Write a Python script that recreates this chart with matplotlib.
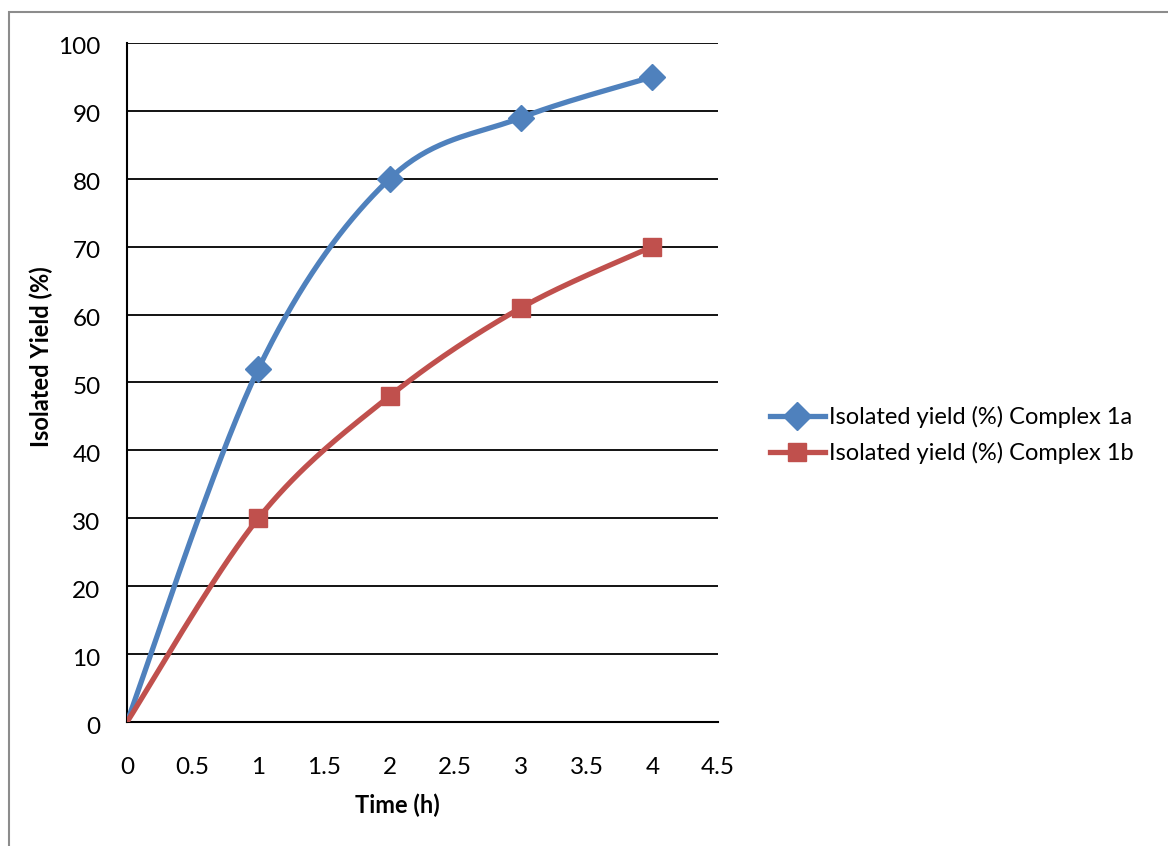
import numpy as np
import matplotlib.pyplot as plt
import matplotlib.transforms as mtransforms
from matplotlib.patches import Rectangle

time_h = [0, 1, 2, 3, 4]
yield_1a = [0, 52, 80, 89, 95]
yield_1b = [0, 30, 48, 61, 70]
labels = ['Isolated yield (%) Complex 1a', 'Isolated yield (%) Complex 1b']

plt.rcParams['font.family'] = ['Lato', 'DejaVu Sans']


def smooth(x, y, n=40):
    # Bezier smoothing through the points, like a spreadsheet "smoothed line"
    x = np.asarray(x, float)
    y = np.asarray(y, float)
    px = np.concatenate([[x[0]], x, [x[-1]]])
    py = np.concatenate([[y[0]], y, [y[-1]]])
    xs, ys = [], []
    t = np.linspace(0, 1, n)
    for i in range(len(x) - 1):
        p0 = np.array([px[i + 1], py[i + 1]])
        p3 = np.array([px[i + 2], py[i + 2]])
        c1 = p0 + (np.array([px[i + 2], py[i + 2]]) - np.array([px[i], py[i]])) / 6
        c2 = p3 - (np.array([px[i + 3], py[i + 3]]) - np.array([px[i + 1], py[i + 1]])) / 6
        b = (np.outer((1 - t) ** 3, p0) + np.outer(3 * (1 - t) ** 2 * t, c1)
             + np.outer(3 * (1 - t) * t ** 2, c2) + np.outer(t ** 3, p3))
        xs.extend(b[:, 0])
        ys.extend(b[:, 1])
    return xs, ys


fig = plt.figure(figsize=(11.68, 8.46), dpi=100)
fig.patches.append(Rectangle((9 / 1168, -0.1), 1.2, 1 - 12 / 846 + 0.1, transform=fig.transFigure,
                             fill=False, edgecolor='#8c8c8c', linewidth=1.5))
ax = fig.add_axes([127 / 1168, 1 - 722 / 846, (718 - 127) / 1168, (722 - 43) / 846])

series = [(yield_1a, '#4F81BD', 'D', 13), (yield_1b, '#C0504D', 's', 12.5)]
handles = []
for (ys, color, marker, ms), label in zip(series, labels):
    sx, sy = smooth(time_h, ys)
    ax.plot(sx, sy, color=color, linewidth=3.8, solid_capstyle='round', zorder=3)
    ax.plot(time_h[1:], ys[1:], linestyle='none', marker=marker, markersize=ms,
            color=color, zorder=4)
    h, = ax.plot([], [], color=color, linewidth=3.8, marker=marker, markersize=ms + 1, label=label)
    handles.append(h)

ax.set_xlim(0, 4.5)
ax.set_ylim(0, 100)
ax.set_xticks(np.arange(0, 4.51, 0.5))
ax.set_xticklabels(['0', '0.5', '1', '1.5', '2', '2.5', '3', '3.5', '4', '4.5'])
ax.set_yticks(np.arange(0, 101, 10))
ax.yaxis.grid(True, color='black', linewidth=1.3)
ax.set_axisbelow(True)
ax.tick_params(length=0, labelsize=17.5)
ax.tick_params(axis='y', pad=19)
ax.tick_params(axis='x', pad=25)
# y labels sit a few pixels below their gridline
shift = mtransforms.ScaledTranslation(0, -3 / 100, fig.dpi_scale_trans)
for lbl in ax.get_yticklabels():
    lbl.set_transform(lbl.get_transform() + shift)
for s in ['top', 'right']:
    ax.spines[s].set_visible(False)
for s in ['left', 'bottom']:
    ax.spines[s].set_linewidth(1.5)
ax.set_xlabel('Time (h)', fontsize=17, fontweight='bold')
ax.set_ylabel('Isolated Yield (%)', fontsize=17, fontweight='bold')
ax.xaxis.set_label_coords((397 - 127) / 591, -0.105)
ax.yaxis.set_label_coords((53 - 127) / 591, (722 - 357) / 679)

fig.legend(handles=handles, loc='center left', bbox_to_anchor=(749 / 1168, 1 - 435 / 846),
           frameon=False, fontsize=17, handlelength=2.3, handletextpad=0.2, labelspacing=0.6)

fig.savefig('out.png', dpi=100)
